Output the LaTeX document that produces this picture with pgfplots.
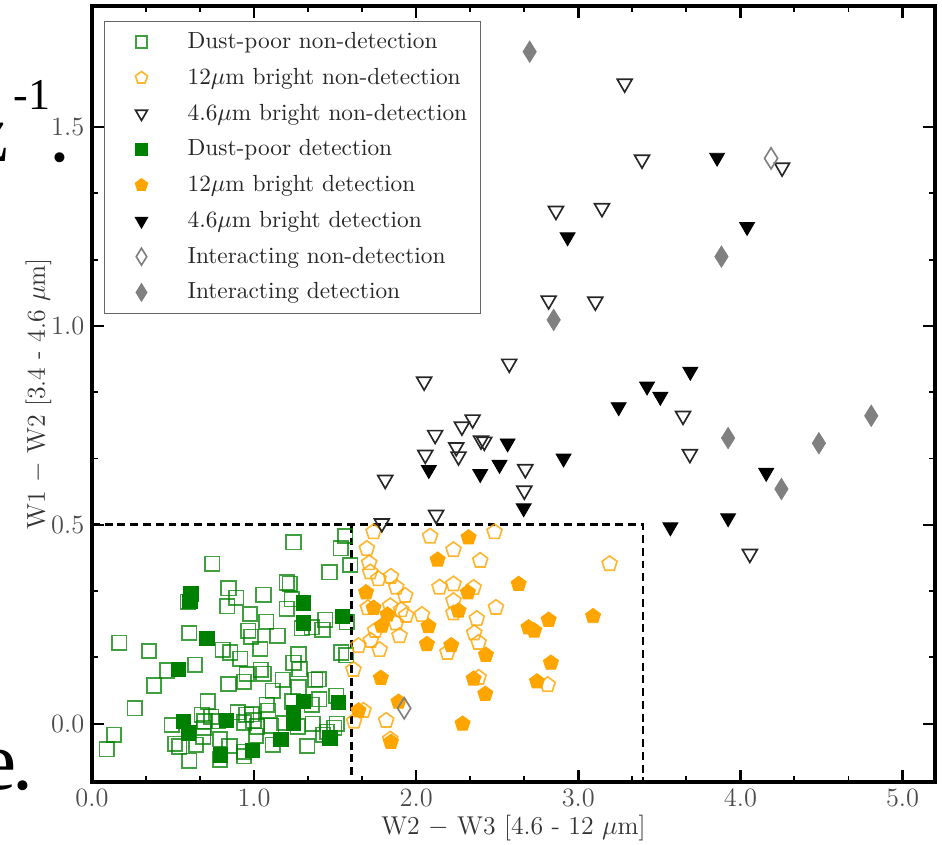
\documentclass[border=0pt]{standalone}
\usepackage{pgfplots}
\pgfplotsset{compat=1.18}
\usetikzlibrary{plotmarks}
\usepackage{fontspec}
\newfontfamily\pagefont{Liberation Serif}

\definecolor{mplgreen}{RGB}{0,128,0}
\definecolor{mplorange}{RGB}{255,165,0}
\definecolor{mplgray}{RGB}{128,128,128}

\newcommand{\chartfont}{\fontsize{11.7}{14}\selectfont}
\newcommand{\legendfont}{\fontsize{10.6}{12.7}\selectfont}

\begin{document}
\begin{tikzpicture}
  \begin{axis}[
    scale only axis,
    width=383.2pt, height=352.7pt,
    xmin=0, xmax=5.2,
    ymin=-0.146, ymax=1.804,
    xtick={0,1,2,3,4,5},
    ytick={0,0.5,1,1.5},
    minor x tick num=2,
    minor y tick num=2,
    tick align=inside,
    major tick length=5.5pt,
    minor tick length=2.6pt,
    major tick style={line width=1.1pt, black},
    minor tick style={line width=0.9pt, black},
    axis line style={line width=1.5pt},
    tick label style={font=\chartfont, text=black!70},
    xticklabel style={/pgf/number format/fixed, /pgf/number format/fixed zerofill, /pgf/number format/precision=1},
    yticklabel style={/pgf/number format/fixed, /pgf/number format/fixed zerofill, /pgf/number format/precision=1},
    xlabel={W2 $-$ W3 [4.6 - 12 $\mu$m]},
    ylabel={W1 $-$ W2 [3.4 - 4.6 $\mu$m]},
    label style={font=\chartfont, text=black!80},
    xlabel style={at={(axis description cs:0.5,-0.0593)}, anchor=center},
    ylabel style={at={(axis description cs:-0.0634,0.5)}, anchor=center},
    legend style={at={(axis description cs:0.0142,0.981)}, anchor=north west,
      draw=black!60, line width=0.6pt, font=\legendfont, text=black!85,
      row sep=3.4pt, inner xsep=4pt, inner ysep=3pt, cells={anchor=west}},
    legend image code/.code={\draw[mark repeat=2, mark phase=2, #1, every mark/.append style={scale=0.8}]
      plot coordinates {(0pt,0pt) (12.4pt,0pt) (24.8pt,0pt)};
      \path (0pt,0pt) (31pt,0pt);},
  ]
    % dust-poor non-detection
    \addplot[only marks, mark=square, mark size=3.3pt, draw=mplgreen, opacity=0.75, line width=0.75pt]
      coordinates {
        (1.562,0.472) (1.243,0.456) (1.535,0.441) (0.743,0.402) (1.593,0.399)
        (1.465,0.381) (1.202,0.355) (1.220,0.352) (0.842,0.341) (1.058,0.324)
        (0.889,0.317) (0.590,0.307) (1.233,0.313) (0.835,0.295) (1.202,0.289)
        (0.975,0.276) (1.438,0.261) (1.074,0.256) (1.572,0.255) (1.294,0.240)
        (1.356,0.243) (1.422,0.236) (0.965,0.234) (0.601,0.228) (0.981,0.219)
        (1.144,0.221) (0.169,0.204) (0.352,0.183) (0.807,0.186) (0.852,0.179)
        (1.037,0.188) (1.274,0.175) (1.537,0.179) (1.568,0.172) (0.914,0.163)
        (1.243,0.153) (0.636,0.148) (1.280,0.137) (0.465,0.134) (1.041,0.136)
        (0.955,0.125) (1.058,0.126) (1.377,0.111) (1.400,0.112) (1.177,0.111)
        (0.842,0.100) (0.938,0.106) (0.383,0.096) (1.274,0.092) (1.115,0.083)
        (1.506,0.070) (0.714,0.056) (1.078,0.048) (1.237,0.056) (1.403,0.062)
        (0.265,0.039) (1.088,0.033) (1.356,0.048) (0.677,0.023) (0.735,0.018)
        (0.899,0.029) (0.951,0.023) (0.986,0.024) (0.492,-0.003) (0.694,0.006)
        (0.780,0.006) (0.938,0.003) (0.996,0.008) (1.105,-0.005) (1.187,0.002)
        (1.362,0.000) (1.510,0.000) (1.495,-0.010) (0.136,-0.028) (0.512,-0.050)
        (0.539,-0.057) (0.642,-0.053) (0.687,-0.032) (0.790,-0.039) (0.848,-0.056)
        (1.012,-0.030) (1.115,-0.053) (1.329,-0.056) (0.091,-0.064) (0.601,-0.093)
        (0.938,-0.082) (0.790,-0.090) (1.426,-0.028) (1.450,-0.020) (0.690,-0.010)
        (1.020,-0.007) (1.270,-0.007) (0.940,-0.070)
      };
    \addlegendentry{Dust-poor non-detection}

    % 12 micron bright non-detection
    \addplot[only marks, mark=pentagon, mark size=3.6pt, draw=mplorange, opacity=0.8, line width=0.75pt]
      coordinates {
        (1.737,0.482) (2.086,0.471) (2.483,0.482) (1.696,0.440) (2.230,0.437)
        (2.395,0.410) (3.193,0.402) (1.710,0.404) (1.716,0.381) (1.767,0.364)
        (1.844,0.370) (1.877,0.343) (1.932,0.322) (2.144,0.343) (2.230,0.351)
        (2.354,0.342) (2.230,0.309) (2.492,0.292) (1.702,0.291) (1.840,0.296)
        (1.907,0.286) (1.938,0.272) (2.035,0.274) (2.230,0.278) (2.374,0.264)
        (1.875,0.253) (1.747,0.234) (1.897,0.221) (2.358,0.228) (2.385,0.204)
        (1.720,0.209) (1.644,0.196) (1.774,0.186) (2.193,0.179) (1.613,0.136)
        (2.385,0.116) (2.811,0.098) (1.675,0.033) (1.617,0.006) (1.815,0.008)
        (1.840,-0.039)
      };
    \addlegendentry{12$\mu$m bright non-detection}

    % 4.6 micron bright non-detection
    \addplot[only marks, mark=triangle, mark size=3.9pt, mark options={rotate=180}, draw=black!85, line width=0.75pt]
      coordinates {
        (2.574,0.905) (2.049,0.860) (2.348,0.765) (2.282,0.747) (2.117,0.726)
        (2.420,0.709) (2.400,0.712) (2.247,0.695) (2.261,0.672) (2.056,0.676)
        (2.673,0.640) (2.667,0.586) (1.809,0.613) (2.123,0.525) (1.788,0.504)
        (3.646,0.774) (3.688,0.678) (4.058,0.427) (3.286,1.609) (3.393,1.418)
        (4.257,1.398) (2.862,1.289) (3.146,1.296) (2.817,1.064) (3.105,1.061)
      };
    \addlegendentry{4.6$\mu$m bright non-detection}

    % dust-poor detection
    \addplot[only marks, mark=square*, mark size=3.3pt, draw=mplgreen, fill=mplgreen]
      coordinates {
        (0.611,0.326) (0.605,0.308) (0.708,0.214) (0.533,0.136) (1.305,0.303)
        (1.305,0.253) (1.545,0.270) (0.564,0.006) (0.595,-0.023) (0.831,0.008)
        (0.794,-0.078) (0.990,-0.067) (1.167,-0.039) (1.243,0.027) (1.243,0.002)
        (1.305,0.056) (1.521,0.054) (1.469,-0.036)
      };
    \addlegendentry{Dust-poor detection}

    % 12 micron bright detection
    \addplot[only marks, mark=pentagon*, mark size=3.6pt, draw=mplorange, fill=mplorange]
      coordinates {
        (2.323,0.468) (2.132,0.412) (2.632,0.351) (1.691,0.330) (2.319,0.330)
        (1.737,0.291) (1.823,0.274) (2.261,0.284) (1.788,0.246) (2.076,0.245)
        (2.066,0.200) (2.216,0.197) (2.430,0.173) (2.693,0.242) (2.728,0.234)
        (2.817,0.261) (3.091,0.270) (2.831,0.153) (1.782,0.115) (2.354,0.113)
        (2.745,0.106) (2.426,0.075) (1.891,0.055) (1.644,0.033) (2.286,0.000)
        (1.844,-0.046)
      };
    \addlegendentry{12$\mu$m bright detection}

    % 4.6 micron bright detection
    \addplot[only marks, mark=triangle*, mark size=3.9pt, mark options={rotate=180}, draw=black, fill=black]
      coordinates {
        (2.564,0.705) (2.514,0.651) (2.395,0.628) (2.078,0.638) (2.909,0.667)
        (3.249,0.796) (3.424,0.848) (2.663,0.542) (3.691,0.885) (3.506,0.822)
        (4.159,0.631) (3.924,0.517) (3.568,0.494) (3.856,1.423) (2.934,1.223)
        (4.041,1.249)
      };
    \addlegendentry{4.6$\mu$m bright detection}

    % interacting non-detection
    \addplot[only marks, mark=diamond, mark size=4.8pt, mark options={xscale=0.83}, draw=mplgray, line width=0.75pt]
      coordinates {(1.926,0.039) (4.189,1.421)};
    \addlegendentry{Interacting non-detection}

    % interacting detection
    \addplot[only marks, mark=diamond*, mark size=4.8pt, mark options={xscale=0.83}, draw=mplgray, fill=mplgray]
      coordinates {
        (2.700,1.689) (3.883,1.174) (2.848,1.015) (3.924,0.718) (4.484,0.705)
        (4.807,0.774) (4.253,0.590)
      };
    \addlegendentry{Interacting detection}

    % selection box
    \addplot[black, line width=1.2pt, dash pattern=on 3.6pt off 2.2pt, forget plot]
      coordinates {(0,0.5) (3.4,0.5) (3.4,-0.146)};
    \addplot[black, line width=1.2pt, dash pattern=on 3.6pt off 2.2pt, forget plot]
      coordinates {(1.6,0.5) (1.6,-0.146)};
  \end{axis}

  % cut-off text of the surrounding page
  \node[anchor=base east, inner sep=0pt, font=\pagefont\fontsize{38}{38}\selectfont] at (-37.7pt,281.8pt) {z};
  \node[anchor=base west, inner sep=0pt, font=\pagefont\fontsize{20}{20}\selectfont] at (-35.9pt,305.5pt) {-1};
  \node[anchor=base, inner sep=0pt, font=\pagefont\fontsize{38}{38}\selectfont] at (-14.5pt,281.8pt) {.};
  \node[anchor=base east, inner sep=0pt, font=\pagefont\fontsize{38}{38}\selectfont] at (-34.1pt,-3.6pt) {e};
  \node[anchor=base, inner sep=0pt, font=\pagefont\fontsize{38}{38}\selectfont] at (-31.4pt,-3.6pt) {.};

  \pgfresetboundingbox
  \path[use as bounding box] (-41.8pt,-28.6pt) rectangle (386.4pt,355.4pt);
\end{tikzpicture}
\end{document}
